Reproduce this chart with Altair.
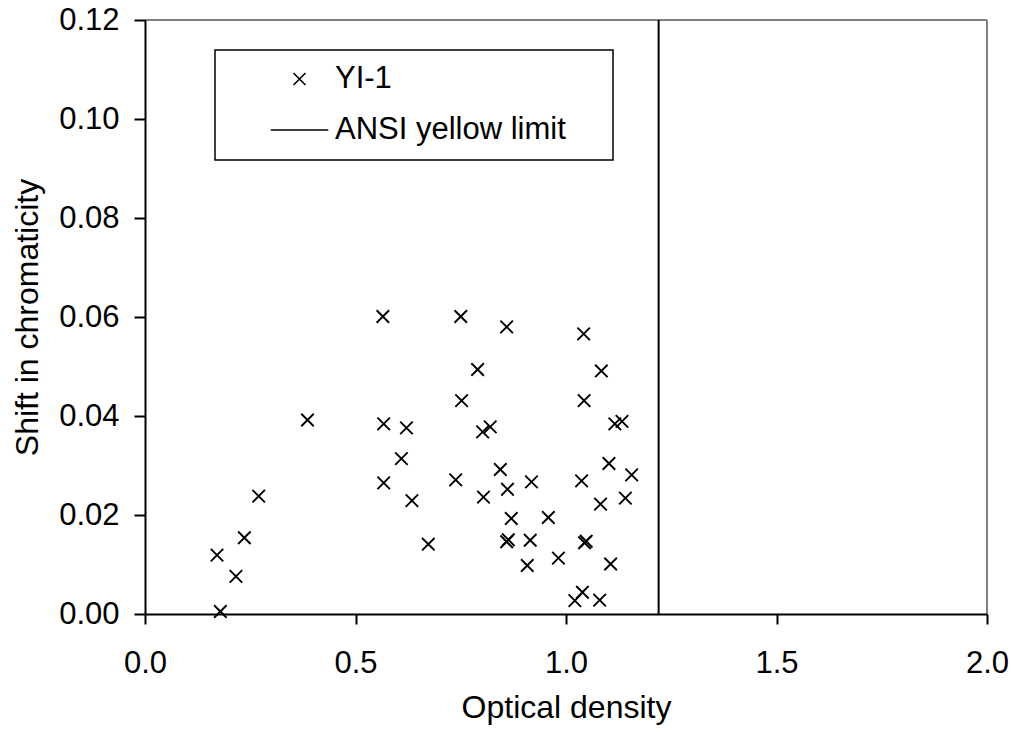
import altair as alt
import pandas as pd

# ---- data ----
optical_density = [
    0.565, 0.386, 0.567, 0.621, 0.609, 0.567, 0.270, 0.634, 0.236, 0.171, 0.673, 0.216, 0.179,
    0.750, 0.859, 1.042, 0.790, 1.084, 0.752, 1.043, 0.802, 0.820, 1.116, 1.133, 1.102, 1.156,
    0.844, 0.738, 0.918, 1.037, 0.861, 0.804, 1.141, 1.082, 0.870, 0.958, 0.859, 0.863, 0.915,
    1.044, 1.048, 0.982, 0.908, 1.106, 1.039, 1.021, 1.080,
]
shift_in_chromaticity = [
    0.0601, 0.0392, 0.0384, 0.0376, 0.0314, 0.0265, 0.0238, 0.0229, 0.0154, 0.0119, 0.0141, 0.0076, 0.0005,
    0.0601, 0.0580, 0.0566, 0.0494, 0.0491, 0.0431, 0.0431, 0.0368, 0.0378, 0.0384, 0.0389, 0.0304, 0.0281,
    0.0292, 0.0271, 0.0267, 0.0269, 0.0252, 0.0236, 0.0234, 0.0222, 0.0193, 0.0195, 0.0146, 0.0150, 0.0149,
    0.0144, 0.0147, 0.0113, 0.0098, 0.0101, 0.0044, 0.0027, 0.0028,
]
ansi_yellow_limit = [1.22]
series_names = ["YI-1", "ANSI yellow limit"]
x_domain = [0.0, 2.0]
y_domain = [0.0, 0.12]
x_ticks = [0.0, 0.5, 1.0, 1.5, 2.0]
y_ticks = [0.0, 0.02, 0.04, 0.06, 0.08, 0.10, 0.12]

FONT = "Liberation Sans"
X_PATH = "M-1,-1L1,1M-1,1L1,-1"
LINE_PATH = "M-4.8,0L4.8,0"

points_df = pd.DataFrame({"od": optical_density, "shift": shift_in_chromaticity, "series": "YI-1"})
limit_df = pd.DataFrame({"od": ansi_yellow_limit})
frame_top_df = pd.DataFrame({"od": [x_domain[0]], "od2": [x_domain[1]], "shift": [y_domain[1]]})
frame_right_df = pd.DataFrame({"od": [x_domain[1]], "shift": [y_domain[0]], "shift2": [y_domain[1]]})

x_scale = alt.Scale(domain=x_domain, nice=False, zero=False)
y_scale = alt.Scale(domain=y_domain, nice=False, zero=False)

x_axis = alt.Axis(
    values=x_ticks, format=".1f", title="Optical density", grid=False,
    labelFont=FONT, labelFontSize=31, labelColor="black", labelFlush=False, labelPadding=24,
    titleFont=FONT, titleFontSize=32, titleFontWeight="normal", titleColor="black", titlePadding=14,
    domainColor="black", domainWidth=2, tickColor="black", tickWidth=2, tickSize=10, zindex=1,
)
y_axis = alt.Axis(
    values=y_ticks, format=".2f", title="Shift in chromaticity", grid=False,
    labelFont=FONT, labelFontSize=31, labelColor="black", labelFlush=False, labelPadding=15,
    titleFont=FONT, titleFontSize=32, titleFontWeight="normal", titleColor="black", titlePadding=14,
    domainColor="black", domainWidth=2, tickColor="black", tickWidth=2, tickSize=11, zindex=1,
)

X = alt.X("od:Q", scale=x_scale, axis=x_axis)
Y = alt.Y("shift:Q", scale=y_scale, axis=y_axis)

frame_top = alt.Chart(frame_top_df).mark_rule(color="#808080", strokeWidth=2).encode(
    x=X, x2="od2:Q", y=Y,
)
frame_right = alt.Chart(frame_right_df).mark_rule(color="#808080", strokeWidth=2).encode(
    x=X, y=Y, y2="shift2:Q",
)

points = alt.Chart(points_df).mark_point(
    filled=False, color="black", size=156, strokeWidth=1.9, opacity=1
).encode(
    x=X,
    y=Y,
    shape=alt.Shape(
        "series:N",
        scale=alt.Scale(domain=series_names, range=[X_PATH, LINE_PATH]),
        legend=alt.Legend(
            orient="none", legendX=139, legendY=43.5, title=None, padding=0,
            labelFont=FONT, labelFontSize=31, labelColor="black", labelOffset=20, labelLimit=500,
            symbolSize=144, symbolStrokeWidth=1.6, symbolStrokeColor="black",
            symbolFillColor="transparent", rowPadding=19,
        ),
    ),
)

limit_line = alt.Chart(limit_df).mark_rule(color="black", strokeWidth=2).encode(x=X)

legend_box = alt.Chart(pd.DataFrame({"k": [0]})).mark_rect(
    fill="white", fillOpacity=0, stroke="black", strokeWidth=1.5
).encode(
    x=alt.value(70), x2=alt.value(468), y=alt.value(30), y2=alt.value(140),
)

chart = alt.layer(points, frame_top, frame_right, limit_line, legend_box).properties(
    width=842, height=594,
    padding={"left": 145, "top": 20, "right": 24, "bottom": 118},
    autosize=alt.AutoSizeParams(type="none"),
    background="white",
).configure_view(stroke=None)

chart.save("out.html", embed_options={"renderer": "svg", "actions": False})
